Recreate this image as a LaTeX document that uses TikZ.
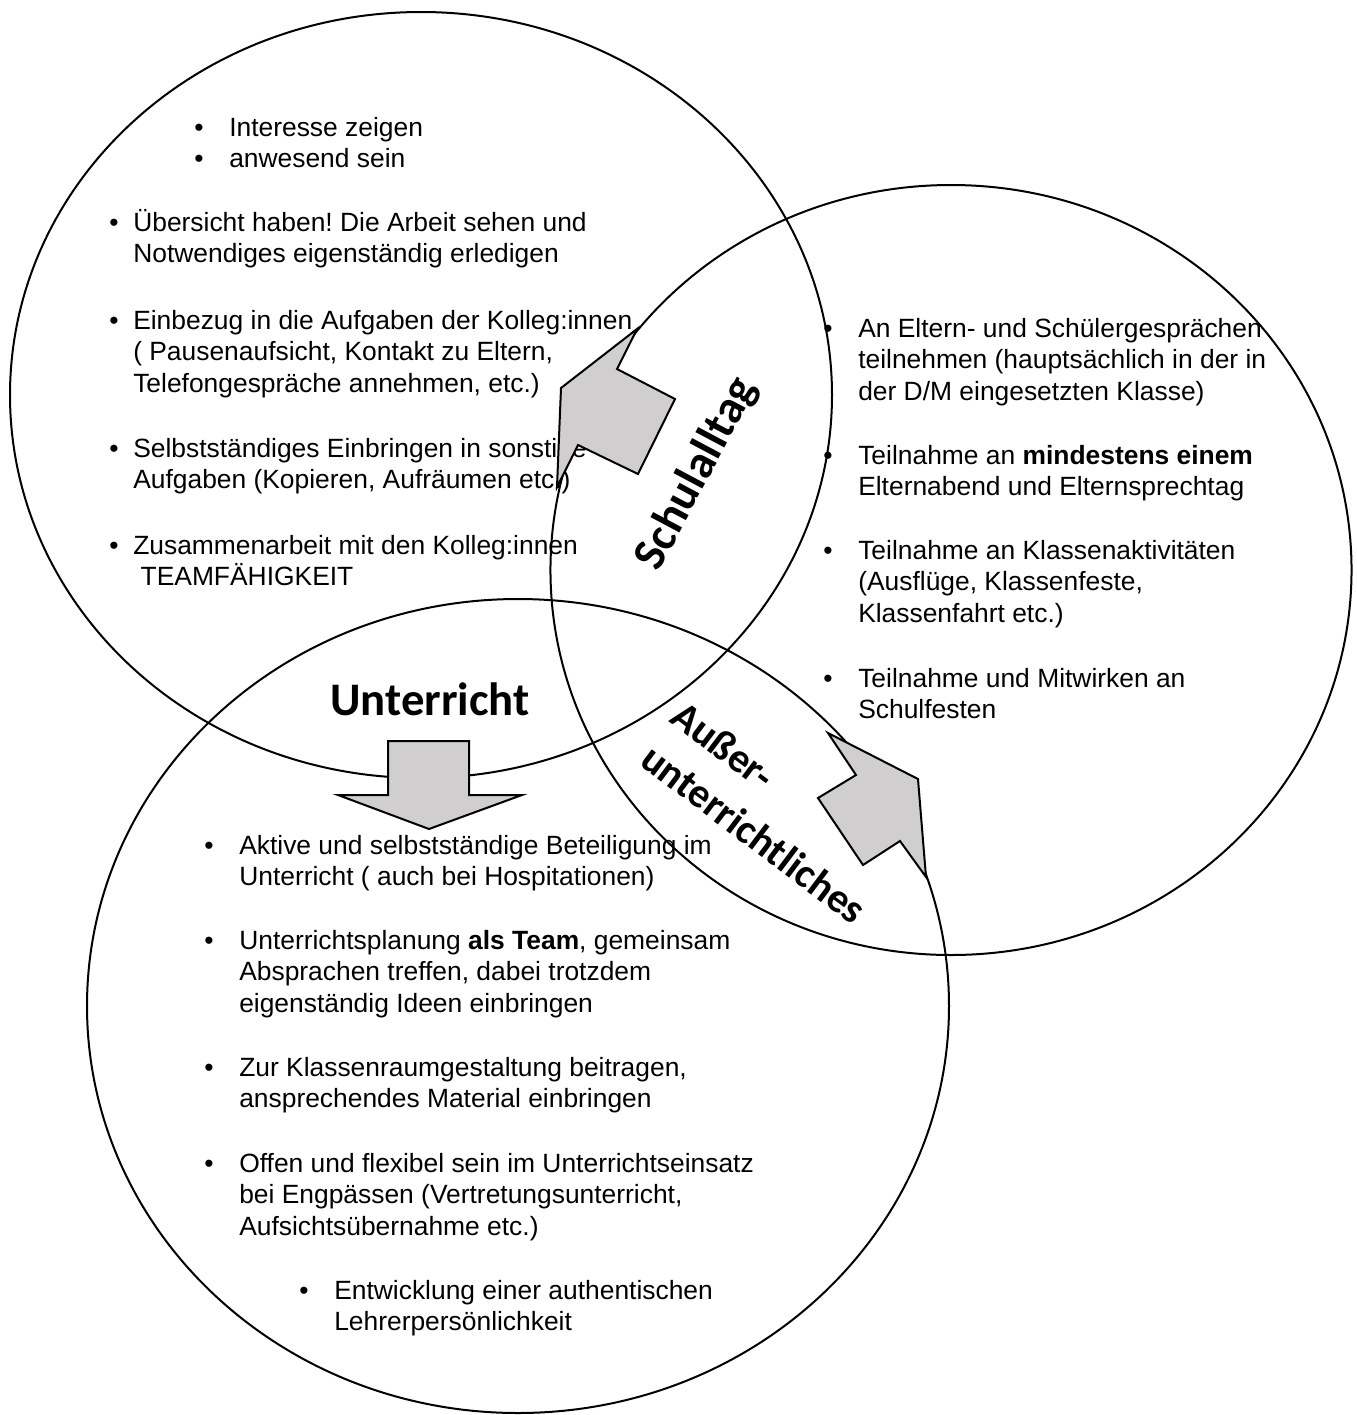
\documentclass[tikz,border=0pt]{standalone}
\usepackage{fontspec}
\setmainfont{Liberation Sans}
\newfontfamily\labelfont{Carlito}
\definecolor{arrowgray}{RGB}{208,206,207}
\frenchspacing
\newcommand{\itemlines}[1]{\begin{tabular}[t]{@{}l@{}}#1\end{tabular}}
\begin{document}
\begin{tikzpicture}[x=0.75pt,y=-0.75pt,
  ring/.style={draw=black,line width=1.5pt},
  blockarrow/.style={draw=black,fill=arrowgray,line width=1.5pt,line join=miter},
  itemtext/.style={anchor=base west,inner sep=0pt,font=\fontsize{19.8}{23.7}\selectfont\frenchspacing},
  bulletmark/.style={anchor=base west,inner sep=0pt,font=\fontsize{19.8}{23.7}\selectfont},
  biglabel/.style={inner sep=0pt,font=\labelfont\bfseries\fontsize{35}{40}\selectfont},
  midlabel/.style={inner sep=0pt,anchor=base west,rotate=-37,font=\labelfont\bfseries\fontsize{31}{40}\selectfont}
]
\useasboundingbox (0,0) rectangle (1357,1415);

% three overlapping ellipses
\draw[ring] (421,395) ellipse [x radius=308.25pt, y radius=287.25pt];
\draw[ring] (951,570) ellipse [x radius=300.4pt, y radius=288.75pt];
\draw[ring] (518,1006) ellipse [x radius=323.25pt, y radius=305.25pt];

% top-left circle items
\node[bulletmark] (a1b) at (194,136) {•};
\node[itemtext] (a1) at (229,136) {Interesse zeigen};
\node[bulletmark] (a2b) at (194,167) {•};
\node[itemtext] (a2) at (229,167) {anwesend sein};
\node[bulletmark] (a3b) at (109,231) {•};
\node[itemtext] (a3) at (133,231) {\itemlines{Übersicht haben! Die Arbeit sehen und\\Notwendiges eigenständig erledigen}};
\node[bulletmark] (a4b) at (109,329) {•};
\node[itemtext] (a4) at (133,329) {\itemlines{Einbezug in die Aufgaben der Kolleg:innen\\( Pausenaufsicht, Kontakt zu Eltern,\\Telefongespräche annehmen, etc.)}};
\node[bulletmark] (a5b) at (109,457) {•};
\node[itemtext] (a5) at (133,457) {\itemlines{Selbstständiges Einbringen in sonstige\\Aufgaben (Kopieren, Aufräumen etc.)}};
\node[bulletmark] (a6b) at (109,554) {•};
\node[itemtext] (a6) at (133,554) {\itemlines{Zusammenarbeit mit den Kolleg:innen\\\hspace*{0.28em}TEAMFÄHIGKEIT}};

% right circle items
\node[bulletmark] (b1b) at (823,337) {•};
\node[itemtext] (b1) at (858,337) {\itemlines{An Eltern- und Schülergesprächen\\teilnehmen (hauptsächlich in der in\\der D/M eingesetzten Klasse)}};
\node[bulletmark] (b2b) at (823,464) {•};
\node[itemtext] (b2) at (858,464) {\itemlines{Teilnahme an \textbf{mindestens einem}\\Elternabend und Elternsprechtag}};
\node[bulletmark] (b3b) at (823,559) {•};
\node[itemtext] (b3) at (858,559) {\itemlines{Teilnahme an Klassenaktivitäten\\(Ausflüge, Klassenfeste,\\Klassenfahrt etc.)}};
\node[bulletmark] (b4b) at (823,687) {•};
\node[itemtext] (b4) at (858,687) {\itemlines{Teilnahme und Mitwirken an\\Schulfesten}};

% bottom circle items
\node[bulletmark] (c1b) at (204,854) {•};
\node[itemtext] (c1) at (239,854) {\itemlines{Aktive und selbstständige Beteiligung im\\Unterricht ( auch bei Hospitationen)}};
\node[bulletmark] (c2b) at (204,949) {•};
\node[itemtext] (c2) at (239,949) {\itemlines{Unterrichtsplanung \textbf{als Team}, gemeinsam\\Absprachen treffen, dabei trotzdem\\eigenständig Ideen einbringen}};
\node[bulletmark] (c3b) at (204,1076) {•};
\node[itemtext] (c3) at (239,1076) {\itemlines{Zur Klassenraumgestaltung beitragen,\\ansprechendes Material einbringen}};
\node[bulletmark] (c4b) at (204,1172) {•};
\node[itemtext] (c4) at (239,1172) {\itemlines{Offen und flexibel sein im Unterrichtseinsatz\\bei Engpässen (Vertretungsunterricht,\\Aufsichtsübernahme etc.)}};
\node[bulletmark] (c5b) at (299,1299) {•};
\node[itemtext] (c5) at (334,1299) {\itemlines{Entwicklung einer authentischen\\Lehrerpersönlichkeit}};

% category labels
\node[biglabel, anchor=base] (unterricht) at (430,715) {Unterricht};
\node[biglabel, rotate=62] (schulalltag) at (697,474) {Schulalltag};
\node[midlabel] (ausser1) at (668,721) {Außer-};
\node[midlabel] (ausser2) at (638,764) {unterrichtliches};

% block arrows
\draw[blockarrow] (637,329) -- (617,369) -- (675,399) -- (638,474) -- (578,445) -- (557,487) -- (561,388) -- cycle;
\draw[blockarrow] (388,741) -- (469,741) -- (469,795) -- (522,795) -- (429,829) -- (338,795) -- (388,795) -- cycle;
\draw[blockarrow] (828,733) -- (918,779) -- (926,877) -- (900,841) -- (863,865) -- (818,798) -- (856,775) -- cycle;
\end{tikzpicture}
\end{document}
